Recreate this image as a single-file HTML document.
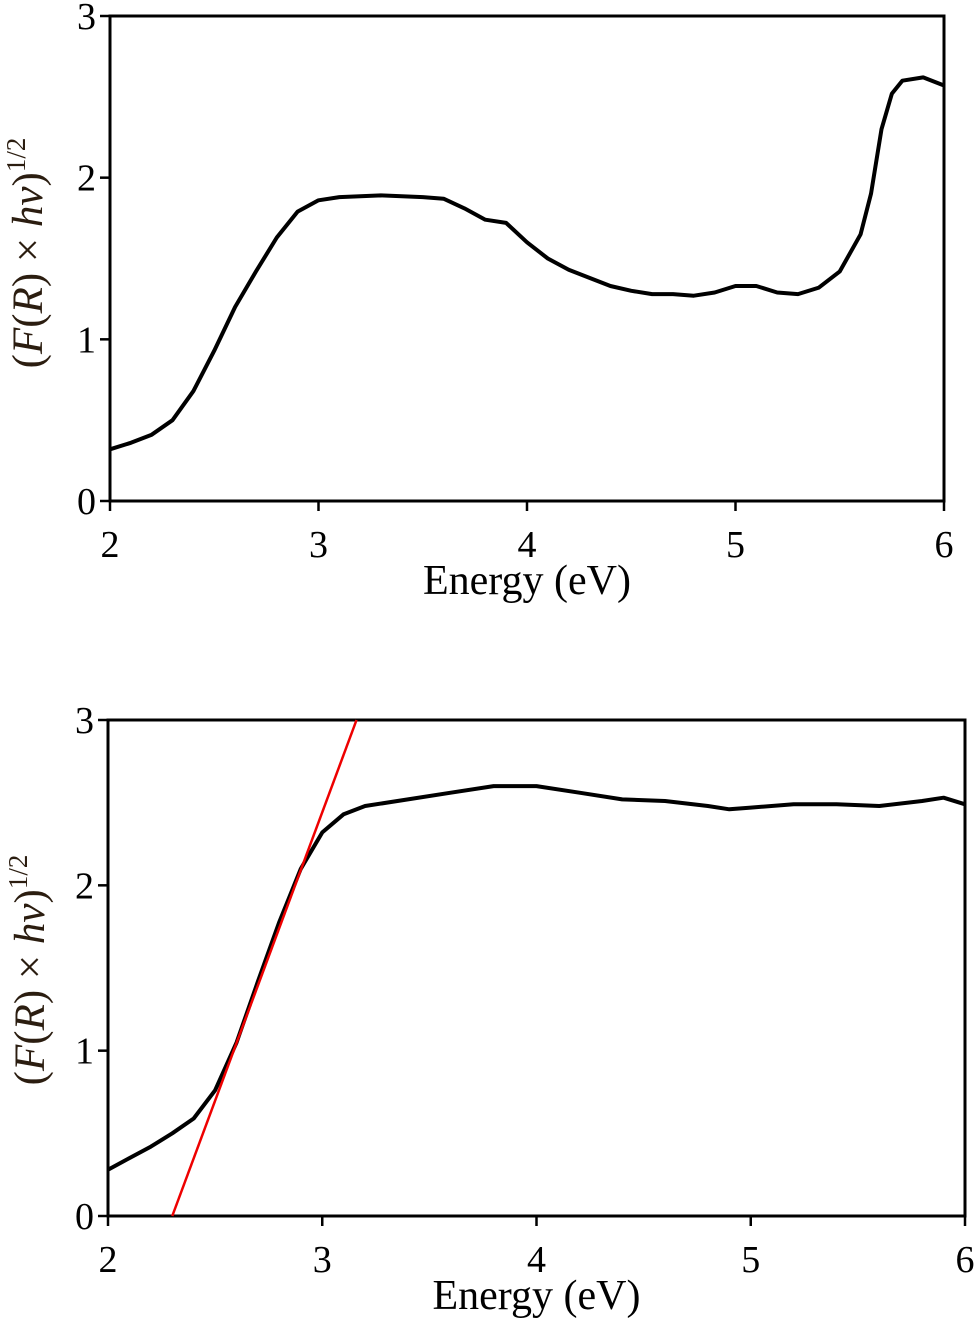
<!DOCTYPE html>
<html><head><meta charset="utf-8"><style>
body{margin:0;background:#fff}
svg{display:block;font-family:"Liberation Serif",serif}
</style></head><body>
<svg width="974" height="1334" id="fig"></svg>
<script>
const xTicks=[2,3,4,5,6];
const yTicks=[0,1,2,3];
const topE=[2.0,2.1,2.2,2.3,2.4,2.5,2.6,2.7,2.8,2.9,3.0,3.1,3.3,3.5,3.6,3.7,3.8,3.9,4.0,4.1,4.2,4.3,4.4,4.5,4.6,4.7,4.8,4.9,5.0,5.1,5.2,5.3,5.4,5.5,5.6,5.65,5.7,5.75,5.8,5.9,6.0];
const topY=[0.32,0.36,0.41,0.50,0.68,0.93,1.20,1.42,1.63,1.79,1.86,1.88,1.89,1.88,1.87,1.81,1.74,1.72,1.60,1.50,1.43,1.38,1.33,1.30,1.28,1.28,1.27,1.29,1.33,1.33,1.29,1.28,1.32,1.42,1.65,1.90,2.30,2.52,2.60,2.62,2.57];
const botE=[2.0,2.1,2.2,2.3,2.4,2.5,2.6,2.7,2.8,2.9,3.0,3.1,3.2,3.4,3.6,3.8,4.0,4.2,4.4,4.6,4.8,4.9,5.0,5.2,5.4,5.6,5.8,5.9,6.0];
const botY=[0.28,0.35,0.42,0.50,0.59,0.76,1.05,1.42,1.78,2.10,2.32,2.43,2.48,2.52,2.56,2.60,2.60,2.56,2.52,2.51,2.48,2.46,2.47,2.49,2.49,2.48,2.51,2.53,2.49];
const fitE=[2.3,3.16];
const fitY=[0,3];
const NS="http://www.w3.org/2000/svg";
const svg=document.getElementById('fig');
function mk(t,a,p){const e=document.createElementNS(NS,t);for(const k in a)e.setAttribute(k,a[k]);(p||svg).appendChild(e);return e;}
function panel(id,L,R,T,B,E,Y,fit,labY){
  const g=mk('g',{});
  
  
  const sx=v=>L+(v-2)/4*(R-L), sy=v=>B-v/3*(B-T);
  const fr=mk('rect',{x:L,y:T,width:R-L,height:B-T,fill:'none',stroke:'#000','stroke-width':3},g);
  
  
  xTicks.forEach(v=>{
    mk('line',{x1:sx(v),x2:sx(v),y1:B,y2:B+10,stroke:'#000','stroke-width':2.5},g);
    const t=mk('text',{x:sx(v),y:B+56,'text-anchor':'middle','font-size':38},g);t.textContent=v;
    
    
  });
  yTicks.forEach(v=>{
    mk('line',{x1:L-10,x2:L,y1:sy(v),y2:sy(v),stroke:'#000','stroke-width':2.5},g);
    const t=mk('text',{x:L-14,y:sy(v)+13,'text-anchor':'end','font-size':38},g);t.textContent=v;
    
    
  });
  const xl=mk('text',{x:(L+R)/2,y:B+93,'text-anchor':'middle','font-size':42},g);xl.textContent='Energy (eV)';
  
  
  const yl=mk('text',{transform:`translate(${labY[0]},${labY[1]}) rotate(-90)`,'text-anchor':'middle','font-size':43,fill:'#2b1d10'},g);
  yl.innerHTML='(<tspan font-style="italic">F</tspan>(<tspan font-style="italic">R</tspan>) × <tspan font-style="italic">hv</tspan>)<tspan font-size="27" dy="-17">1/2</tspan>';
  
  
  const d=E.map((e,i)=>(i?'L':'M')+sx(e).toFixed(1)+','+sy(Y[i]).toFixed(1)).join('');
  const p=mk('path',{d:d,fill:'none',stroke:'#000','stroke-width':4,'stroke-linejoin':'round'},g);
  
  
  if(fit){
    const f=mk('line',{x1:sx(fitE[0]),y1:sy(fitY[0]),x2:sx(fitE[1]),y2:sy(fitY[1]),stroke:'#e00','stroke-width':2.5},g);
    
    
  }
}
panel('top-chart',110,944,16,501,topE,topY,false,[42,253]);
panel('bottom-chart',108,965,720,1216,botE,botY,true,[44,970]);
</script>
</body></html>
